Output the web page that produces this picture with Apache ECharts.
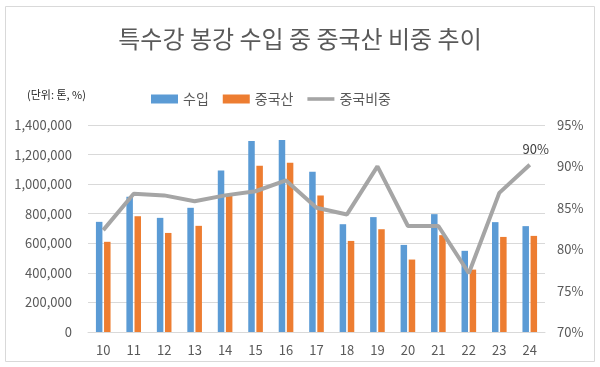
<!DOCTYPE html>
<html><head><meta charset="utf-8">
<script src="https://cdn.jsdelivr.net/npm/echarts@6/dist/echarts.min.js"></script>
<style>html,body{margin:0;padding:0;background:#fff}#c{width:600px;height:367px}</style>
</head><body><div id="c"></div>
<script>
const categories = ['10','11','12','13','14','15','16','17','18','19','20','21','22','23','24'];
const imports = [745000, 915000, 772000, 840000, 1093000, 1291000, 1298000, 1084000, 729000, 777000, 589000, 797000, 549000, 743000, 716000];
const chinaOrigin = [610000, 783000, 670000, 718000, 930000, 1124000, 1145000, 923000, 616000, 695000, 490000, 655000, 422000, 643000, 650000];
const chinaShare = [82.3, 86.7, 86.5, 85.8, 86.5, 87.0, 88.3, 85.0, 84.2, 90.0, 82.8, 82.8, 77.1, 86.8, 90.2];
const leftTicks = [0, 1400000, 200000];
const rightTicks = [70, 95, 5];

const font = '"Noto Sans CJK KR", "Noto Sans", sans-serif';
const chart = echarts.init(document.getElementById('c'), null, {renderer: 'canvas'});
const shareData = chinaShare.map((v, i) => i === chinaShare.length - 1 ? {
  value: v,
  label: {show: true, position: 'top', offset: [6, -4], formatter: '90%', color: '#404040', fontSize: 13, fontFamily: font}
} : v);
chart.setOption({
  animation: false,
  textStyle: {fontFamily: font},
  graphic: [
    {type: 'rect', shape: {x: 5.5, y: 6.5, width: 589, height: 355}, style: {fill: 'none', stroke: '#d9d9d9', lineWidth: 1}},
    {type: 'text', left: 27, top: 89, style: {text: '(단위: 톤, %)', fontSize: 11, fill: '#262626', fontFamily: font}}
  ],
  title: {
    text: '특수강 봉강 수입 중 중국산 비중 추이',
    left: 'center', top: 22,
    textStyle: {fontSize: 24, fontWeight: 'normal', color: '#595959', fontFamily: font}
  },
  legend: {
    top: 87, left: 146,
    itemWidth: 27, itemHeight: 9, itemGap: 14,
    textStyle: {fontSize: 14, color: '#595959', fontFamily: font},
    data: [
      {name: '수입', icon: 'rect'},
      {name: '중국산', icon: 'rect'},
      {name: '중국비중', icon: 'path://M0,0 L30,0 L30,4 L0,4 Z', itemStyle: {color: '#a5a5a5'}}
    ]
  },
  grid: {left: 88, right: 55, top: 125, bottom: 35},
  xAxis: {
    type: 'category', data: categories,
    axisLine: {lineStyle: {color: '#d9d9d9'}},
    axisTick: {show: false},
    axisLabel: {color: '#595959', fontSize: 13, margin: 12, fontFamily: font}
  },
  yAxis: [{
    type: 'value', min: leftTicks[0], max: leftTicks[1], interval: leftTicks[2],
    axisLine: {show: false}, axisTick: {show: false},
    splitLine: {lineStyle: {color: '#d9d9d9'}},
    axisLabel: {color: '#595959', fontSize: 13, margin: 16, fontFamily: font,
      formatter: v => v.toLocaleString('en-US')}
  }, {
    type: 'value', min: rightTicks[0], max: rightTicks[1], interval: rightTicks[2],
    axisLine: {show: false}, axisTick: {show: false}, splitLine: {show: false},
    axisLabel: {color: '#595959', fontSize: 13, margin: 12, fontFamily: font, formatter: v => v + '%'}
  }],
  series: [
    {name: '수입', type: 'bar', data: imports, barWidth: 6.5, barGap: '25%', itemStyle: {color: '#5b9bd5'}},
    {name: '중국산', type: 'bar', data: chinaOrigin, barWidth: 6.5, barGap: '25%', itemStyle: {color: '#ed7d31'}},
    {name: '중국비중', type: 'line', yAxisIndex: 1, data: shareData, symbol: 'circle', symbolSize: 0.01, showSymbol: true,
      lineStyle: {color: '#a5a5a5', width: 4}, itemStyle: {color: '#a5a5a5'}, z: 5}
  ]
});
</script></body></html>
